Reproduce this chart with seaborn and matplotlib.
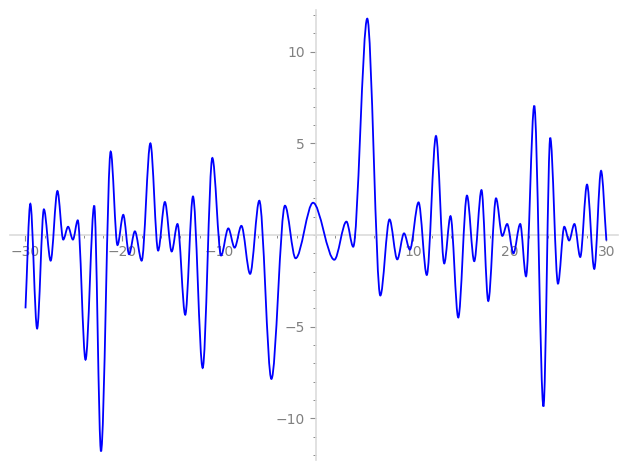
import numpy as np
import matplotlib
matplotlib.use('Agg')
import matplotlib.pyplot as plt
from matplotlib.path import Path
from matplotlib.patches import PathPatch
from matplotlib.ticker import MultipleLocator
import seaborn as sns

sns.set_theme(style='white')
plt.rcParams['font.family'] = ['DejaVu Sans']

# turning points of the curve (plus both ends)
turn_x = [-30, -29.5, -28.8, -28.1, -27.4, -26.7, -26.1, -25.6, -25.1, -24.6,
          -23.8, -22.9, -22.2, -21.2, -20.5, -19.9, -19.3, -18.7, -18.0, -17.1,
          -16.3, -15.6, -14.9, -14.3, -13.5, -12.7, -11.7, -10.7, -9.8, -9.05,
          -8.4, -7.7, -6.8, -5.85, -4.6, -3.2, -2.1, -0.3, 1.9, 3.15,
          3.85, 5.3, 6.65, 7.6, 8.4, 9.1, 9.7, 10.6, 11.45, 12.4,
          13.25, 13.9, 14.7, 15.6, 16.35, 17.1, 17.8, 18.6, 19.25, 19.75,
          20.4, 21.1, 21.7, 22.55, 23.5, 24.2, 25.0, 25.65, 26.15, 26.7,
          27.3, 28.0, 28.75, 29.45, 30]
turn_y = [-4.0, 1.7, -5.1, 1.4, -1.4, 2.4, -0.25, 0.45, -0.25, 0.8,
          -6.8, 1.6, -11.8, 4.55, -0.55, 1.1, -1.05, 0.2, -1.4, 5.0,
          -0.85, 1.8, -0.9, 0.6, -4.35, 2.1, -7.25, 4.2, -1.12, 0.36,
          -0.69, 0.5, -2.12, 1.87, -7.85, 1.6, -1.27, 1.76, -1.35, 0.73,
          -0.64, 11.8, -3.3, 0.85, -1.33, 0.09, -0.8, 1.78, -2.18, 5.4,
          -1.55, 1.03, -4.5, 2.15, -1.43, 2.45, -3.6, 2.0, -0.05, 0.6,
          -1.0, 0.6, -2.25, 7.05, -9.35, 5.3, -2.65, 0.45, -0.3, 0.6,
          -1.2, 2.75, -1.85, 3.5, -0.3]

x_major = [-30, -20, -10, 10, 20, 30]
y_major = [-10, -5, 5, 10]

axis_grey = '#dcdcdc'
tick_grey = '#8c8c8c'
label_grey = '#808080'

fig = plt.figure(figsize=(6.27, 4.70), dpi=100)
ax = fig.add_axes([10 / 627, 10 / 470, 608 / 627, 450 / 470])

# smooth curve: flat tangents at every turning point
verts = [(turn_x[0], turn_y[0])]
codes = [Path.MOVETO]
n = len(turn_x)
for i in range(n - 1):
    x0, y0, x1, y1 = turn_x[i], turn_y[i], turn_x[i + 1], turn_y[i + 1]
    dx, dy = x1 - x0, y1 - y0
    c1 = (x0 + dx / 3, y0 + (dy / 3 if i == 0 else 0))
    c2 = (x1 - dx / 3, y1 - (dy / 3 if i == n - 2 else 0))
    verts += [c1, c2, (x1, y1)]
    codes += [Path.CURVE4] * 3
ax.add_patch(PathPatch(Path(verts, codes), facecolor='none',
                       edgecolor='#0000ff', lw=1.3, zorder=3))

ax.set_xlim(-31.6, 31.2)
ax.set_ylim(-12.27, 12.27)

for side in ['top', 'right']:
    ax.spines[side].set_visible(False)
for side in ['left', 'bottom']:
    ax.spines[side].set_position(('data', 0))
    ax.spines[side].set_color(axis_grey)
    ax.spines[side].set_linewidth(1.2)

ax.set_xticks(x_major)
ax.set_yticks(y_major)
ax.xaxis.set_minor_locator(MultipleLocator(2))
ax.yaxis.set_minor_locator(MultipleLocator(1))
ax.tick_params(which='both', bottom=True, left=True, top=False, right=False)
ax.tick_params(which='major', direction='out', length=4, width=0.8,
               color=tick_grey, labelcolor=label_grey, labelsize=10, pad=3)
ax.tick_params(which='minor', direction='out', length=2.5, width=0.7,
               color=tick_grey)
ax.tick_params(axis='y', which='major', pad=4)

fig.savefig('out.png', dpi=100)
